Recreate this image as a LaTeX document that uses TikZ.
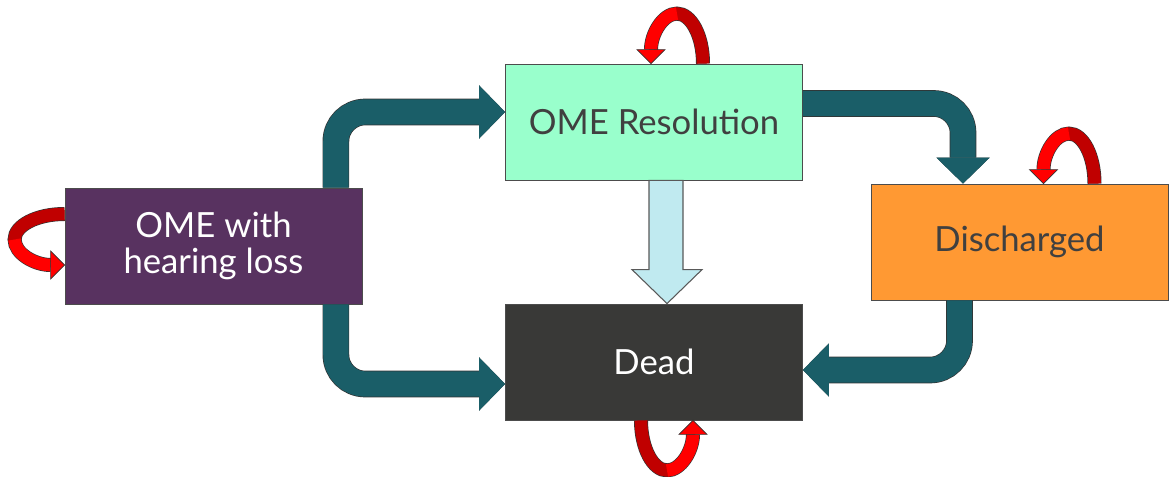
\documentclass[tikz,border=0pt]{standalone}
\usepackage{fontspec}
\setmainfont{Lato}
\usetikzlibrary{arrows.meta,calc}

\definecolor{omepurple}{RGB}{88,50,96}
\definecolor{resmint}{RGB}{153,255,204}
\definecolor{disorange}{RGB}{255,153,51}
\definecolor{deadgrey}{RGB}{57,57,55}
\definecolor{flowteal}{RGB}{26,94,104}
\definecolor{flowblue}{RGB}{192,234,240}
\definecolor{txtgrey}{RGB}{64,64,64}
\definecolor{loopdark}{RGB}{192,0,0}

\begin{document}
\begin{tikzpicture}[x=0.75pt,y=-0.75pt,
  state/.style={draw=gray!60!black, line width=0.6pt, minimum width=222.75pt, minimum height=87pt,
    inner sep=0pt, align=center, font=\fontsize{26}{26.5}\selectfont},
  flow/.style={draw=flowteal, line width=19pt, rounded corners=22pt,
    -{Triangle[length=19.5pt,width=40pt,line width=0pt]},
    preaction={draw=gray!40!black, line width=20pt}},
  blockarrow/.style={draw=gray!70!black, line width=0.8pt, fill=flowblue},
  loopedge/.style={draw=gray!40!black, line width=10.5pt},
  loopback/.style={draw=loopdark, line width=9.5pt},
  loopfront/.style={draw=red, line width=9.5pt},
  loophead/.style={fill=red, draw=gray!40!black, line width=0.5pt}]
\useasboundingbox (0,0) rectangle (1170,477);

% States
\node[state, fill=omepurple, text=white] (ome) at (213.5,246) {OME with\\hearing loss};
\node[state, fill=resmint, text=txtgrey] (res) at (654,122) {OME Resolution};
\node[state, fill=disorange, text=txtgrey] (dis) at (1019.5,242) {Discharged};
\node[state, fill=deadgrey, text=white] (dead) at (654,362) {Dead};

% Transitions
\draw[flow] ($(ome.north east)+(-26.5,0)$) |- ($(res.west)+(0,-10)$);
\draw[flow] ($(res.east)+(0,-18.5)$) -| ($(dis.north)+(-56.5,0)$);
\draw[flow] ($(ome.south east)+(-26.5,0)$) |- ($(dead.west)+(0,22)$);
\draw[flow] ($(dis.south)+(-60,0)$) |- ($(dead.east)+(0,8)$);
\draw[blockarrow] ($(res.south)+(-5,0)$) -- ($(dead.north)+(-5,-34)$) -- ($(dead.north)+(-22,-34)$)
  -- ($(dead.north)+(13,0)$) -- ($(dead.north)+(48,-34)$) -- ($(dead.north)+(29,-34)$)
  -- ($(res.south)+(29,0)$) -- cycle;

% Self loops
\begin{scope}[shift={(res.north)}]
\draw[loopedge] (49,0) .. controls (49,-28) and (37,-50) .. (23,-50) .. controls (9,-50) and (-3,-30) .. (-3,-14);
\draw[loopback] (49,0) .. controls (49,-28) and (37,-50) .. (23,-50) -- (20,-50);
\draw[loopfront] (23,-50) .. controls (9,-50) and (-3,-30) .. (-3,-14);
\filldraw[loophead] (-17,-14) -- (-3,0) -- (11,-14) -- cycle;
\end{scope}
\begin{scope}[shift={(dis.north)}]
\draw[loopedge] (75,0) .. controls (75,-28) and (63.5,-50) .. (49.5,-50) .. controls (35.5,-50) and (24,-30) .. (24,-14);
\draw[loopback] (75,0) .. controls (75,-28) and (63.5,-50) .. (49.5,-50) -- (46.5,-50);
\draw[loopfront] (49.5,-50) .. controls (35.5,-50) and (24,-30) .. (24,-14);
\filldraw[loophead] (10,-14) -- (24,0) -- (38,-14) -- cycle;
\end{scope}
\begin{scope}[shift={(dead.south)}, yscale=-1]
\draw[loopedge] (-13,0) .. controls (-13,-28) and (-1,-50) .. (13,-50) .. controls (27,-50) and (39,-30) .. (39,-14);
\draw[loopback] (-13,0) .. controls (-13,-28) and (-1,-50) .. (13,-50) -- (16,-50);
\draw[loopfront] (13,-50) .. controls (27,-50) and (39,-30) .. (39,-14);
\filldraw[loophead] (25,-14) -- (39,0) -- (53,-14) -- cycle;
\end{scope}
\begin{scope}[shift={(ome.west)}, rotate=90]
\draw[loopedge] (32,0) .. controls (32,-28) and (20.5,-50) .. (6.5,-50) .. controls (-7.5,-50) and (-19,-30) .. (-19,-14);
\draw[loopback] (32,0) .. controls (32,-28) and (20.5,-50) .. (6.5,-50) -- (3.5,-50);
\draw[loopfront] (6.5,-50) .. controls (-7.5,-50) and (-19,-30) .. (-19,-14);
\filldraw[loophead] (-33,-14) -- (-19,0) -- (-5,-14) -- cycle;
\end{scope}

\end{tikzpicture}
\end{document}
